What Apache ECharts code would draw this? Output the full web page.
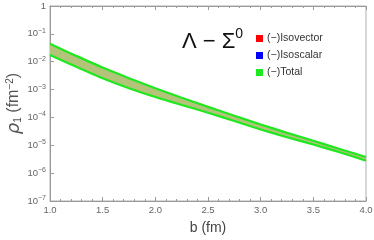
<!DOCTYPE html>
<html>
<head>
<meta charset="utf-8">
<script src="https://cdn.jsdelivr.net/npm/echarts@6/dist/echarts.min.js"></script>
<style>
html,body{margin:0;padding:0;background:#fff;}
#chart{width:374px;height:240px;}
</style>
</head>
<body>
<div id="chart"></div>
<script>
// impact parameter b (fm)
const bValues = [1.0, 1.25, 1.5, 1.75, 2.0, 2.25, 2.5, 2.75, 3.0, 3.25, 3.5, 3.75, 4.0];
// (-)Total band edges, rho_1 (fm^-2)
const totalUpper = [0.0437, 0.0162, 0.00617, 0.00257, 0.00112, 5.1e-4, 2.4e-4, 1.15e-4, 5.6e-5, 2.8e-5, 1.45e-5, 7.4e-6, 3.8e-6];
const totalLower = [0.0174, 0.0066, 0.00257, 0.00112, 5.4e-4, 2.8e-4, 1.48e-4, 7.4e-5, 3.7e-5, 1.95e-5, 1.07e-5, 5.6e-6, 2.8e-6];
const legendNames = ["(\u2212)Isovector", "(\u2212)Isoscalar", "(\u2212)Total"];

const upperPts = bValues.map((b, i) => [b, totalUpper[i]]);
const lowerPts = bValues.map((b, i) => [b, totalLower[i]]);

const chart = echarts.init(document.getElementById("chart"));
const axisGray = "#9a9a9a";
const labelGray = "#666";

chart.setOption({
  animation: false,
  title: {
    text: "{a|\u039B \u2212 \u03A3}{s|0}",
    left: 177,
    top: 22,
    textStyle: {
      fontWeight: "normal",
      rich: {
        a: { fontSize: 22, fontWeight: "normal", color: "#111", fontFamily: "Liberation Sans", verticalAlign: "bottom", lineHeight: 26 },
        s: { fontSize: 14, fontWeight: "normal", color: "#111", fontFamily: "Liberation Sans", verticalAlign: "top", lineHeight: 26 }
      }
    }
  },
  legend: {
    data: legendNames,
    orient: "vertical",
    left: 251,
    top: 28,
    itemWidth: 7,
    itemHeight: 7,
    itemGap: 6,
    icon: "rect",
    textStyle: { fontSize: 10.5, color: "#333", fontFamily: "Liberation Sans", padding: [0, 0, 0, -1] }
  },
  grid: {
    left: 50, right: 8, top: 6, bottom: 39,
    containLabel: false,
    outerBoundsMode: "none",
    show: true, borderColor: "#b0b0b0", borderWidth: 1
  },
  xAxis: [{
    type: "value",
    min: 1, max: 4, interval: 0.5,
    name: "b (fm)",
    nameLocation: "middle",
    nameGap: 20,
    nameMoveOverlap: false,
    nameTextStyle: { fontSize: 14, color: "#444", fontFamily: "Liberation Sans" },
    axisLine: { lineStyle: { color: axisGray } },
    axisTick: { inside: true, length: 4, lineStyle: { color: axisGray } },
    minorTick: { show: true, splitNumber: 5, length: 2, lineStyle: { color: axisGray } },
    splitLine: { show: false },
    axisLabel: { fontSize: 9.5, color: labelGray, margin: 4, fontFamily: "Liberation Sans",
      formatter: v => v.toFixed(1) }
  }, {
    type: "value",
    position: "top",
    min: 1, max: 4, interval: 0.5,
    axisLine: { lineStyle: { color: axisGray } },
    axisTick: { inside: true, length: 4, lineStyle: { color: axisGray } },
    minorTick: { show: true, splitNumber: 5, length: 2, lineStyle: { color: axisGray } },
    splitLine: { show: false },
    axisLabel: { show: false }
  }],
  yAxis: {
    type: "log",
    logBase: 10,
    min: 1e-7, max: 1,
    name: "{r|\u03C1}{sub|1} (fm{sup|\u22122})",
    nameLocation: "middle",
    nameGap: 27,
    nameMoveOverlap: false,
    nameTextStyle: {
      color: "#555",
      rich: {
        r: { fontSize: 18, color: "#555", fontFamily: "DejaVu Sans", fontStyle: "italic" },
        sub: { fontSize: 10, color: "#555", fontFamily: "Liberation Sans", verticalAlign: "bottom", padding: [8, 0, 0, 0] },
        sup: { fontSize: 10, color: "#555", fontFamily: "Liberation Sans", verticalAlign: "top", padding: [0, 0, 8, 0] }
      },
      fontSize: 16, fontFamily: "Liberation Sans"
    },
    axisLine: { show: true, lineStyle: { color: axisGray } },
    axisTick: { inside: true, length: 4, lineStyle: { color: axisGray } },
    minorTick: { show: false },
    splitLine: { show: false },
    axisLabel: {
      fontSize: 9.5, color: labelGray, margin: 4, fontFamily: "Liberation Sans",
      formatter: v => {
        const e = Math.round(Math.log10(v));
        return e === 0 ? "1" : "10{s|\u2212" + (-e) + "}";
      },
      rich: { s: { fontSize: 7, color: labelGray, verticalAlign: "top", padding: [0, 0, 6, 0] } }
    }
  },
  series: [{
    name: legendNames[0], type: "line", data: [], color: "#ff0000"
  }, {
    name: legendNames[1], type: "line", data: [], color: "#0000ff"
  }, {
    type: "custom",
    silent: true,
    data: [0],
    z: 1,
    renderItem: (params, api) => {
      const pts = upperPts.map(p => api.coord(p))
        .concat(lowerPts.slice().reverse().map(p => api.coord(p)));
      return {
        type: "polygon",
        shape: { points: pts, smooth: 0 },
        style: { fill: "#b4c37a", stroke: null }
      };
    }
  }, {
    name: legendNames[2], type: "line", data: upperPts, color: "#1ee81e",
    symbol: "none", smooth: 0.2, lineStyle: { width: 2.2, color: "#1ee81e" }, z: 3
  }, {
    name: legendNames[2], type: "line", data: lowerPts, color: "#1ee81e",
    symbol: "none", smooth: 0.2, lineStyle: { width: 2.2, color: "#1ee81e" }, z: 3
  }]
});
</script>
</body>
</html>
